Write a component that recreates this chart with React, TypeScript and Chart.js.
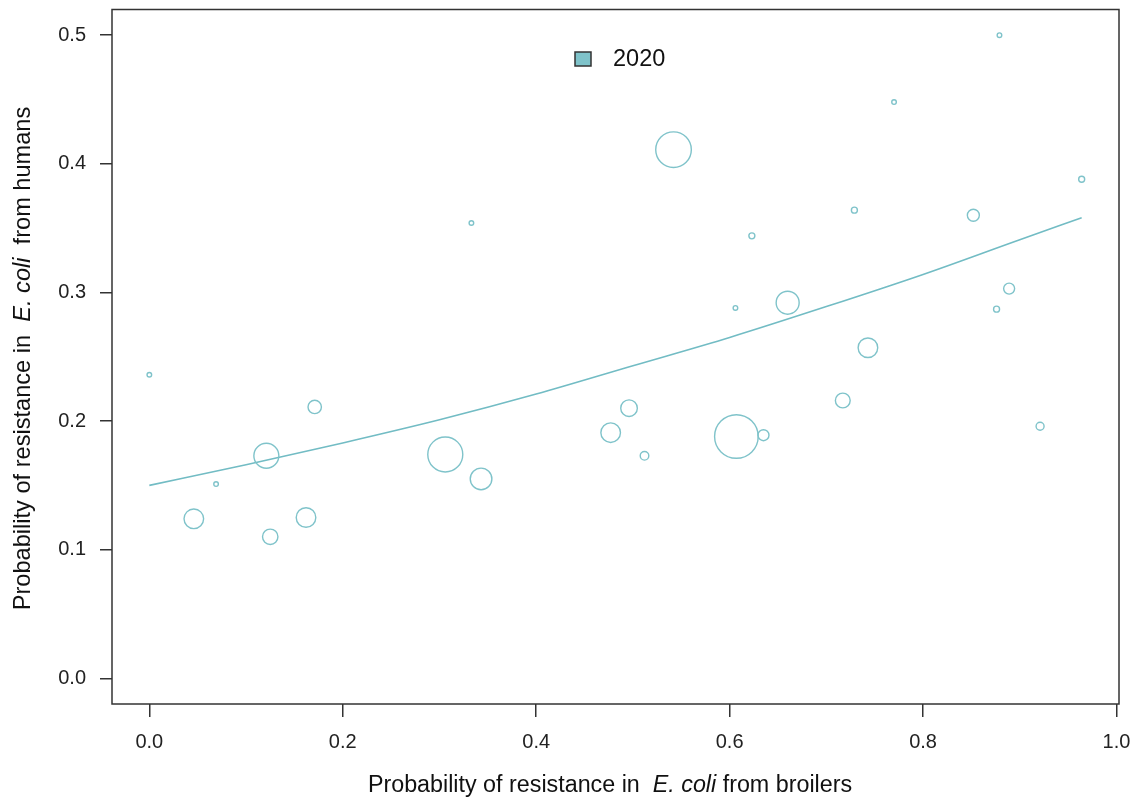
import React, { useEffect, useRef } from "react";
import { Chart, registerables } from "chart.js";

Chart.register(...registerables);

// ---- Data ----
const broilers = [0.000, 0.046, 0.069, 0.121, 0.125, 0.162, 0.171, 0.306, 0.333, 0.343, 0.477, 0.496, 0.512, 0.542, 0.607, 0.606, 0.623, 0.635, 0.660, 0.717, 0.729, 0.743, 0.770, 0.852, 0.876, 0.879, 0.889, 0.921, 0.964];
const humans = [0.236, 0.124, 0.151, 0.173, 0.110, 0.125, 0.211, 0.174, 0.354, 0.155, 0.191, 0.210, 0.173, 0.411, 0.188, 0.288, 0.344, 0.189, 0.292, 0.216, 0.364, 0.257, 0.448, 0.360, 0.287, 0.500, 0.303, 0.196, 0.388];
const bubbleRadius = [2.3, 9.8, 2.3, 12.5, 7.7, 9.8, 6.7, 17.5, 2.3, 10.8, 9.8, 8.3, 4.3, 17.8, 21.8, 2.3, 3, 5.5, 11.5, 7.4, 3, 9.8, 2.3, 6, 3, 2.3, 5.5, 4, 3];

const fitX = [0, 0.1, 0.2, 0.3, 0.4, 0.5, 0.6, 0.7, 0.8, 0.9, 0.964];
const fitY = [0.150, 0.166, 0.183, 0.201, 0.221, 0.243, 0.265, 0.289, 0.314, 0.341, 0.358];

const xTicks = [0, 0.2, 0.4, 0.6, 0.8, 1.0];
const yTicks = [0, 0.1, 0.2, 0.3, 0.4, 0.5];
const legendLabels = ["2020"];

const FONT = '"Liberation Sans", Arial, Helvetica, sans-serif';
const TEAL = "#7fc3ca";

const titlesPlugin = {
  id: "titlesPlugin",
  afterDraw(chart: any) {
    const ctx = chart.ctx;
    const a = chart.chartArea;
    ctx.save();
    // box
    ctx.strokeStyle = "#333";
    ctx.lineWidth = 1.5;
    ctx.strokeRect(a.left, a.top, a.right - a.left, a.bottom - a.top);

    const drawMixed = (parts: [string, boolean][], cx: number, size: number) => {
      let total = 0;
      const widths = parts.map(([t, it]) => {
        ctx.font = `${it ? "italic " : ""}${size}px ${FONT}`;
        const w = ctx.measureText(t).width;
        total += w;
        return w;
      });
      let x = cx - total / 2;
      parts.forEach(([t, it], i) => {
        ctx.font = `${it ? "italic " : ""}${size}px ${FONT}`;
        ctx.fillText(t, x, 0);
        x += widths[i];
      });
    };

    ctx.fillStyle = "#111";
    ctx.textBaseline = "alphabetic";
    ctx.textAlign = "left";
    // x title
    ctx.save();
    ctx.translate(0, 792);
    drawMixed([["Probability of resistance in  ", false], ["E. coli", true], [" from broilers", false]], 610, 23.3);
    ctx.restore();
    // y title
    ctx.save();
    ctx.translate(30, 0);
    ctx.rotate(-Math.PI / 2);
    drawMixed([["Probability of resistance in  ", false], ["E. coli", true], ["  from humans", false]], -358.5, 23.6);
    ctx.restore();

    // legend
    ctx.fillStyle = TEAL;
    ctx.fillRect(575, 52, 16, 14);
    ctx.strokeStyle = "#333";
    ctx.lineWidth = 1.5;
    ctx.strokeRect(575, 52, 16, 14);
    ctx.fillStyle = "#111";
    ctx.font = `23.5px ${FONT}`;
    ctx.textBaseline = "middle";
    ctx.fillText(legendLabels[0], 613, 60);
    ctx.restore();
  },
};

const bgPlugin = {
  id: "bgPlugin",
  beforeDraw(chart: any) {
    const ctx = chart.ctx;
    ctx.save();
    ctx.fillStyle = "#fff";
    ctx.fillRect(0, 0, chart.width, chart.height);
    ctx.restore();
  },
};

export default function App() {
  const ref = useRef<HTMLCanvasElement | null>(null);
  useEffect(() => {
    if (!ref.current) return;
    const chart = new Chart(ref.current, {
      type: "scatter",
      data: {
        datasets: [
          {
            type: "scatter",
            label: legendLabels[0],
            data: broilers.map((x, i) => ({ x, y: humans[i] })),
            pointRadius: bubbleRadius,
            pointHoverRadius: bubbleRadius,
            pointBackgroundColor: "rgba(0,0,0,0)",
            pointBorderColor: TEAL,
            pointBorderWidth: 1.4,
            clip: false,
          } as any,
          {
            type: "line",
            label: "fit",
            data: fitX.map((x, i) => ({ x, y: fitY[i] })),
            borderColor: "#72bcc4",
            borderWidth: 1.6,
            pointRadius: 0,
            cubicInterpolationMode: "monotone",
            fill: false,
          } as any,
        ],
      },
      options: {
        responsive: false,
        animation: false,
        layout: { autoPadding: false, padding: { left: 0, top: 9.5, right: 18, bottom: 0 } },
        plugins: { legend: { display: false }, tooltip: { enabled: false } },
        scales: {
          x: {
            type: "linear",
            min: -0.0386,
            max: 1.0026,
            afterBuildTicks: (s: any) => {
              s.ticks = xTicks.map((v) => ({ value: v }));
            },
            afterFit: (s: any) => {
              s.height = 97;
              s.paddingLeft = 0;
              s.paddingRight = 0;
              s.paddingTop = 0;
              s.paddingBottom = 0;
            },
            border: { display: false },
            grid: { drawOnChartArea: false, drawTicks: true, tickLength: 13, tickColor: "#333", lineWidth: 1.5 },
            ticks: {
              autoSkip: false,
              maxRotation: 0,
              padding: 13,
              color: "#222",
              font: { family: FONT, size: 20 },
              callback: (v: any) => Number(v).toFixed(1),
            },
          },
          y: {
            type: "linear",
            min: -0.02,
            max: 0.52,
            afterBuildTicks: (s: any) => {
              s.ticks = yTicks.map((v) => ({ value: v }));
            },
            afterFit: (s: any) => {
              s.width = 112;
              s.paddingLeft = 0;
              s.paddingRight = 0;
              s.paddingTop = 0;
              s.paddingBottom = 0;
            },
            border: { display: false },
            grid: { drawOnChartArea: false, drawTicks: true, tickLength: 12, tickColor: "#333", lineWidth: 1.5 },
            ticks: {
              autoSkip: false,
              padding: 14,
              color: "#222",
              font: { family: FONT, size: 20 },
              callback: (v: any) => Number(v).toFixed(1),
            },
          },
        },
      },
      plugins: [bgPlugin, titlesPlugin],
    });
    return () => chart.destroy();
  }, []);
  return (
    <div style={{ position: "fixed", left: 0, top: 0, width: 1137, height: 801, background: "#fff" }}>
      <canvas ref={ref} width={1137} height={801} />
    </div>
  );
}
